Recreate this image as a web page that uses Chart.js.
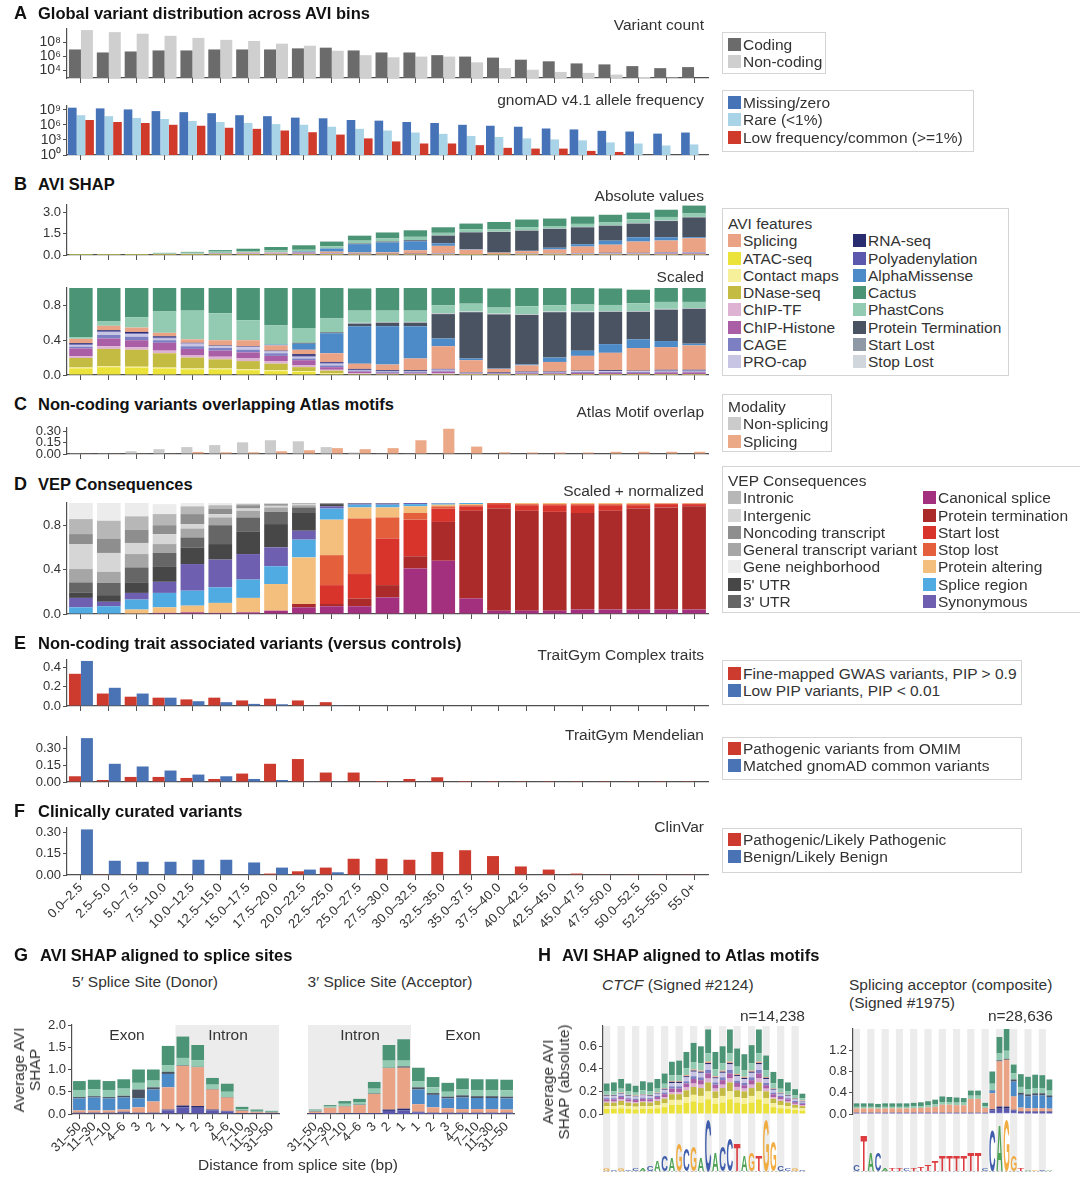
<!DOCTYPE html>
<html>
<head>
<meta charset="utf-8">
<script src="https://cdn.jsdelivr.net/npm/chart.js@4.4.1/dist/chart.umd.min.js"></script>
<style>
body{margin:0;width:1080px;height:1190px;position:relative;background:#fff;font-family:"Liberation Sans",Arial,sans-serif;color:#222;overflow:hidden}
canvas{position:absolute}
.t{position:absolute;white-space:nowrap;line-height:1}
.ttl{font-weight:bold;font-size:16.5px;color:#111}
.let{font-weight:bold;font-size:18px;color:#111}
.sub{font-size:15.5px;color:#333}
.lg{position:absolute;border:1px solid #d4d4d4;font-size:15.5px;line-height:17.3px;padding:3px 5px;color:#333;box-sizing:border-box;white-space:nowrap}
.lg i{display:inline-block;width:13px;height:13px;margin-right:2px;vertical-align:-1px}
.rot{position:absolute;transform:translate(-50%,-50%) rotate(-90deg);text-align:center;font-size:15.5px;line-height:16px;color:#333;white-space:nowrap}
</style>
</head>
<body>
<script>
const FONT = '"Liberation Sans", Arial, sans-serif';
Chart.defaults.font.family = FONT;
Chart.defaults.color = '#333';
const AX = '#505050';

// ---------- categories ----------
const bins = ['0.0–2.5','2.5–5.0','5.0–7.5','7.5–10.0','10.0–12.5','12.5–15.0','15.0–17.5','17.5–20.0',
  '20.0–22.5','22.5–25.0','25.0–27.5','27.5–30.0','30.0–32.5','32.5–35.0','35.0–37.5','37.5–40.0',
  '40.0–42.5','42.5–45.0','45.0–47.5','47.5–50.0','50.0–52.5','52.5–55.0','55.0+'];
const spliceLabels = ['31–50','11–30','7–10','4–6','3','2','1','1','2','3','4–6','7–10','11–30','31–50'];

// ---------- A: variant counts ----------
const codingCount = [1.05e7,3.9e6,5.4e6,7.6e6,7.6e6,1.05e7,1.05e7,1.05e7,1.5e7,1.9e7,7.6e6,3.9e6,3.9e6,1.6e6,1.0e6,7.1e5,3.6e5,2.1e5,1.05e5,7.6e4,4.3e4,2.2e4,3.1e4];
const nonCodingCount = [6.3e9,3.2e9,1.9e9,9.5e8,4.8e8,2.5e8,1.7e8,7.1e7,3.6e7,6.8e6,1.6e6,7.9e5,1.0e6,1.0e6,1.5e5,2.2e4,1.3e4,6.3e3,4.6e3,2.6e3,1.2e3,1.0e3,0];
const afMissing = [2.9e9,2.1e9,1.3e9,6.0e8,3.7e8,2.3e8,9.1e7,5.8e7,3.0e7,2.2e7,1.0e7,7.4e6,4.0e6,2.5e6,1.1e6,7.1e5,4.5e5,2.0e5,1.3e5,6.8e4,4.9e4,1.9e4,3.1e4];
const afRare = [9.1e7,5.8e7,2.6e7,1.6e7,6.3e6,4.0e6,2.5e6,1.5e6,1.1e6,4.5e5,1.7e5,7.9e4,3.1e4,1.7e4,6.5e3,4.0e3,2.1e3,1.3e3,850,330,200,80,130];
const afCommon = [1.0e7,4.0e6,2.5e6,1.1e6,7.1e5,2.8e5,1.7e5,7.9e4,3.6e4,1.2e4,2.1e3,520,200,200,93,27,19,19,6.6,4.1,0,0,0];

// ---------- B: AVI SHAP ----------
const shapTotal = [.07,.07,.07,.15,.22,.34,.44,.56,.68,.94,1.36,1.57,1.72,1.94,2.2,2.32,2.47,2.54,2.69,2.83,3.03,3.17,3.46];
const scAtac    = [.076,.09,.085,.075,.065,.065,.055,.045,.035,.015,.005,.005,.005,.005,.002,.002,.002,.002,.002,.002,.002,.002,.002];
const scContact = [.01,.01,.01,.01,.01,.01,.01,.01,.01,.005,0,0,0,0,0,0,0,0,0,0,0,0,0];
const scDnase   = [.11,.2,.195,.165,.125,.105,.095,.075,.045,.03,.005,.005,.005,.005,.003,.003,.003,.003,.003,.003,.003,.003,.003];
const scChipTF  = [.02,.03,.03,.03,.03,.03,.03,.03,.02,.01,.01,.005,.005,.01,.005,.005,.005,.005,.005,.005,.005,.005,.005];
const scChipHist= [.09,.09,.08,.09,.07,.07,.07,.06,.06,.03,.02,.01,.01,.02,.005,.005,.01,.01,.015,.015,.015,.02,.02];
const scCage    = [.02,.04,.04,.03,.03,.03,.03,.03,.02,.02,.01,.01,.01,.01,.005,.005,.01,.01,.01,.01,.01,.01,.01];
const scProcap  = [.02,.03,.03,.02,.03,.02,.03,.02,.02,.02,.005,.005,.005,.01,.005,0,.005,.005,.01,.01,.01,.01,.01];
const scPoly    = [.01,.01,.01,.01,.005,.005,.005,.005,.01,.01,.005,.005,.005,.005,0,0,0,0,0,0,0,0,0];
const scRna     = [.01,.015,.015,.015,.005,.005,.005,.005,.02,.01,.01,.01,.01,.005,.005,.01,.005,.005,.005,.01,.005,.01,.01];
const scSplicing= [.05,.05,.05,.04,.04,.06,.07,.06,.05,.10,.06,.065,.135,.26,.14,.04,.07,.11,.17,.20,.26,.26,.28];
const scAM      = [0,0,0,0,0,0,0,.01,.07,.23,.43,.44,.37,.09,.02,.005,.01,.05,.06,.10,.10,.07,.02];
const scPT      = [0,0,0,0,0,0,0,0,.01,.01,.03,.04,.04,.28,.53,.62,.57,.52,.44,.37,.315,.36,.40];
const scStart   = [0,0,0,0,0,0,0,0,0,0,.005,.005,.005,.005,.005,.005,.005,.005,.005,.005,.005,.005,.005];
const scStop    = [0,0,0,0,0,0,0,0,0,0,.005,.005,.005,.005,.005,.005,.005,.005,.005,.005,.005,.005,.005];
const scPhast   = [.02,.05,.12,.245,.33,.31,.23,.22,.17,.16,.14,.13,.13,.09,.09,.07,.09,.07,.08,.07,.09,.08,.07];
const scCactus  = [.58,.385,.335,.27,.26,.30,.37,.43,.46,.35,.255,.265,.265,.20,.18,.22,.215,.205,.19,.19,.155,.16,.16];

// ---------- C: Atlas motif overlap ----------
const motifNonSplicing = [.01,.01,.037,.065,.093,.12,.157,.185,.171,.093,.02,.005,.005,0,0,0,0,0,0,0,0,0,0];
const motifSplicing    = [.005,.005,.005,.005,.028,.023,.023,.037,.051,.079,.065,.079,.185,.34,.10,.023,.02,.02,.02,.03,.03,.03,.03];

// ---------- D: VEP consequences ----------
const vepCanon    = [0,0,.005,.01,.015,.01,.015,.03,.06,.07,.07,.15,.41,.48,.14,.03,.03,.03,.04,.04,.04,.04,.04];
const vepProtTerm = [0,0,0,0,0,0,0,0,.03,.02,.07,.11,.11,.35,.79,.92,.90,.89,.87,.89,.91,.92,.93];
const vepStart    = [0,0,0,0,0,0,0,0,0,.17,.22,.42,.33,.12,.04,.04,.05,.06,.07,.05,.03,.03,.02];
const vepStop     = [0,0,0,0,0,0,0,0,0,.27,.50,.19,.06,.02,.01,.01,.01,.01,.01,.01,.01,.005,.005];
const vepProtAlt  = [0,0,.035,.05,.06,.09,.13,.24,.42,.32,.10,.09,.06,.015,.01,0,.01,.01,.01,.01,.01,.005,.005];
const vepSpliceReg= [.06,.07,.09,.13,.135,.14,.165,.16,.16,.10,.025,.025,.02,.01,.01,0,0,0,0,0,0,0,0];
const vepSynon    = [.085,.04,.06,.10,.24,.25,.23,.17,.08,.02,.01,.01,.01,.005,0,0,0,0,0,0,0,0,0];
const vepUtr5     = [.05,.06,.09,.14,.15,.14,.20,.21,.16,.02,.005,.005,.01,0,0,0,0,0,0,0,0,0,0];
const vepUtr3     = [.09,.11,.14,.12,.09,.17,.13,.11,.05,.005,0,0,0,0,0,0,0,0,0,0,0,0,0];
const vepGeneral  = [.12,.10,.12,.08,.08,.07,.06,.04,.02,.005,0,0,0,0,0,0,0,0,0,0,0,0,0];
const vepIntergen = [.225,.17,.10,.09,.04,.03,.02,.015,.01,0,0,0,0,0,0,0,0,0,0,0,0,0,0];
const vepNoncoding= [.09,.13,.12,.08,.09,.05,.03,.015,.005,0,0,0,0,0,0,0,0,0,0,0,0,0,0];
const vepIntronic = [.135,.16,.12,.10,.07,.03,.01,.005,.005,0,0,0,0,0,0,0,0,0,0,0,0,0,0];
const vepGeneNb   = [.145,.16,.12,.09,.03,.02,.01,.005,0,0,0,0,0,0,0,0,0,0,0,0,0,0,0];

// ---------- E / F ----------
const complexGwas = [.336,.13,.097,.087,.069,.087,.058,.076,.058,.04,0,0,0,0,0,0,0,0,0,0,0,0,0];
const complexLowPip = [.47,.19,.13,.087,.05,.04,.022,.018,.007,.003,0,0,0,0,0,0,0,0,0,0,0,0,0];
const mendelOmim = [.051,.018,.045,.045,.036,.027,.075,.162,.204,.084,.084,.009,.027,.042,.009,.008,.002,.002,.002,.002,.002,.002,.002];
const mendelGnomad = [.39,.162,.138,.102,.066,.051,.027,.018,.003,.002,0,0,0,0,0,0,0,0,0,0,0,0,0];
const clinvarPath = [0,.002,0,0,0,0,0,.01,.026,.052,.114,.114,.107,.162,.174,.133,.06,.038,.01,.002,.002,.002,.002];
const clinvarBenign = [.32,.10,.093,.093,.107,.107,.088,.052,.038,.019,.002,0,0,0,0,0,0,0,0,0,0,0,0];

// ---------- G: splice sites ----------
const donorPoly  = [.02,.02,.02,.03,.02,.02,.08,.15,.14,.08,.06,.01,.01,.01];
const donorRna   = [.01,.01,.01,.02,.01,.01,.02,.04,.04,.02,.01,.01,.01,.01];
const donorSpl   = [.05,.05,.05,.05,.12,.25,.5,.89,.87,.45,.30,.05,.02,.01];
const donorAM    = [.27,.29,.27,.27,.2,.27,.3,0,0,0,0,0,0,0];
const donorPT    = [.03,.03,.03,.04,.2,.05,.05,.01,.01,.01,.01,.01,.01,.01];
const donorPhast = [.16,.16,.16,.16,.15,.15,.15,.17,.15,.10,.12,.03,.02,.01];
const donorCactus= [.20,.21,.20,.21,.30,.25,.43,.48,.34,.15,.18,.05,.03,.02];
const accPoly  = [.01,.01,.01,.01,.01,.07,.08,.04,.02,.02,.02,.02,.02,.02];
const accRna   = [.01,.005,.01,.01,.01,.03,.04,.01,.01,.01,.01,.01,.01,.01];
const accSpl   = [.03,.125,.15,.18,.43,.93,.92,.17,.12,.10,.08,.08,.08,.07];
const accAM    = [0,0,0,0,0,0,0,.33,.28,.22,.26,.25,.25,.25];
const accPT    = [.01,0,.01,.01,.01,.01,.03,.05,.04,.04,.05,.04,.04,.04];
const accPhast = [.02,.03,.05,.06,.11,.16,.13,.14,.13,.11,.13,.14,.14,.14];
const accCactus= [.02,.03,.06,.07,.15,.35,.48,.30,.23,.20,.25,.24,.24,.24];

// ---------- H: Atlas motifs ----------
const ctcfAtac   = [.045,.045,.05,.045,.04,.045,.045,.05,.06,.08,.08,.10,.11,.10,.13,.09,.10,.13,.10,.09,.10,.13,.09,.06,.05,.045,.035,.03];
const ctcfContact= [.025,.025,.03,.025,.025,.025,.025,.03,.035,.045,.045,.05,.06,.06,.07,.05,.06,.07,.05,.05,.06,.07,.05,.035,.03,.025,.02,.02];
const ctcfDnase  = [.03,.03,.035,.03,.03,.035,.03,.035,.04,.05,.05,.06,.07,.07,.08,.06,.07,.08,.06,.06,.07,.08,.06,.04,.035,.03,.025,.02];
const ctcfTF     = [.01,.01,.015,.01,.01,.01,.01,.015,.015,.02,.02,.025,.03,.03,.035,.025,.03,.035,.03,.025,.03,.035,.025,.015,.015,.01,.01,.01];
const ctcfHist   = [.02,.02,.02,.02,.02,.02,.02,.02,.025,.03,.03,.035,.04,.04,.045,.035,.04,.045,.035,.03,.04,.045,.03,.025,.02,.02,.015,.01];
const ctcfCage   = [.01,.01,.01,.01,.01,.01,.01,.01,.015,.02,.02,.02,.025,.025,.03,.02,.025,.03,.02,.02,.025,.03,.02,.015,.01,.01,.01,.01];
const ctcfProcap = [.02,.02,.02,.02,.02,.02,.02,.02,.025,.03,.03,.035,.04,.04,.05,.035,.04,.05,.04,.035,.04,.05,.035,.025,.02,.02,.015,.01];
const ctcfRna    = [.005,.005,.005,.005,.005,.005,.005,.005,.008,.01,.01,.01,.01,.01,.012,.01,.01,.012,.01,.01,.01,.012,.01,.008,.005,.005,.005,.005];
const ctcfSpl    = [.005,.005,.005,.005,.005,.005,.005,.005,.005,.008,.008,.01,.01,.01,.012,.01,.01,.012,.01,.01,.01,.012,.008,.005,.005,.005,.005,.005];
const ctcfPhast  = [.03,.03,.035,.03,.025,.035,.03,.035,.04,.05,.05,.06,.065,.065,.075,.06,.065,.075,.065,.06,.065,.075,.06,.045,.035,.03,.025,.02];
const ctcfCactus = [.07,.08,.085,.07,.06,.08,.08,.085,.09,.12,.13,.145,.17,.15,.21,.155,.15,.21,.16,.14,.16,.21,.13,.10,.085,.08,.055,.04];
const accMotifPoly  = [.01,.01,.01,.01,.01,.01,.01,.01,.01,.01,.01,.01,.01,.01,.01,.01,.01,.01,.01,.05,.08,.08,.05,.03,.03,.03,.03,.03];
const accMotifProcap= [.01,.01,.01,.01,.01,.01,.01,.01,.01,.01,.01,.01,.01,.01,.01,.01,.01,.01,.01,.02,.02,.02,.02,.01,.01,.01,.01,.01];
const accMotifRna   = [.005,.005,.005,.005,.005,.005,.005,.005,.005,.005,.005,.005,.005,.005,.005,.005,.005,.005,.005,.02,.04,.04,.01,.01,.01,.01,.01,.01];
const accMotifSpl   = [.08,.08,.08,.075,.08,.08,.08,.08,.085,.09,.10,.11,.15,.15,.14,.14,.26,.26,.09,.30,.85,.88,.25,.07,.06,.06,.06,.05];
const accMotifAM    = [0,0,0,0,0,0,0,0,0,0,0,0,0,0,0,0,0,0,0,.05,0,0,.28,.24,.22,.24,.24,.22];
const accMotifPT    = [0,0,0,0,0,0,0,0,0,0,0,0,0,0,0,0,0,0,0,.01,.02,.02,.04,.04,.04,.04,.04,.03];
const accMotifPhast = [.03,.03,.03,.03,.03,.03,.03,.03,.035,.035,.04,.045,.05,.05,.05,.05,.06,.06,.035,.12,.13,.15,.12,.11,.10,.10,.10,.09];
const accMotifCactus= [.065,.065,.065,.06,.065,.065,.065,.065,.065,.07,.075,.09,.105,.095,.095,.085,.095,.095,.06,.23,.31,.41,.16,.24,.23,.25,.24,.21];
const ctcfLogo = ['G','C','G','C','C','A','C','A','C','A','G','C','G','A','C','A','C','C','T','A','G','T','G','G','C','C','G','C'];
const ctcfLogoH = [.04,.03,.04,.03,.04,.05,.1,.2,.3,.25,.55,.45,.5,.25,1,.35,.5,.65,.55,.3,.35,.3,1,.6,.1,.06,.04,.03];
const accLogo = ['C','T','A','C','A','T','T','C','T','T','T','T','T','T','T','T','T','T','C','C','A','G','G','T','A','G','C','A'];
const accLogoH = [.12,.7,.35,.35,.04,.04,.04,.04,.06,.08,.12,.2,.3,.3,.3,.3,.35,.35,.06,.8,.9,1,.3,.06,.03,.03,.03,.03];

// ---------- colours ----------
const FEAT = {
  'ATAC-seq':'#ece33a','Contact maps':'#f6f09a','DNase-seq':'#c4bb43','ChIP-TF':'#ddb2d3','ChIP-Histone':'#a95ea6',
  'CAGE':'#7c80c2','PRO-cap':'#c8c5e4','Polyadenylation':'#5b58ad','RNA-seq':'#2a2c70','Splicing':'#eba386',
  'AlphaMissense':'#4d8ac8','Protein Termination':'#4a5361','Start Lost':'#8f99a6','Stop Lost':'#d1d6dc',
  'PhastCons':'#92cbb2','Cactus':'#4b9476'
};
const LOGO_COL = {A:'#3c9a45', C:'#2e4ea5', G:'#f0a42c', T:'#d9272b'};

function feat(name, data) { return {label: name, data, backgroundColor: FEAT[name]}; }
function bar(label, data, color) { return {label, data, backgroundColor: color}; }

const SUP = '⁰¹²³⁴⁵⁶⁷⁸⁹';
const pow10 = v => '10' + String(Math.round(Math.log10(v))).split('').map(d => SUP[d]).join('');

function mk(o) {
  const pt = o.pt ?? 8, pr = o.pr ?? 4;
  const w = o.x1 - o.x0 + o.yw + pr, h = o.y1 - o.y0 + pt + o.xh;
  const cv = document.createElement('canvas');
  cv.width = w; cv.height = h;
  cv.style.left = (o.x0 - o.yw) + 'px'; cv.style.top = (o.y0 - pt) + 'px';
  cv.style.width = w + 'px'; cv.style.height = h + 'px';
  document.body.appendChild(cv);
  const showY = !!o.yTicks;
  return new Chart(cv, {
    type: 'bar',
    data: {labels: o.labels || bins, datasets: o.sets},
    plugins: o.plugins || [],
    options: {
      responsive: false, animation: false, devicePixelRatio: 1,
      layout: {padding: {top: pt, right: pr, left: 0, bottom: 0}},
      plugins: {legend: {display: false}, tooltip: {enabled: false}},
      datasets: {bar: {borderWidth: 0, barPercentage: o.bp ?? 1, categoryPercentage: o.cp ?? 0.86}},
      scales: {
        x: {
          stacked: !!o.stacked, offset: true,
          border: {display: o.xLine !== false, color: AX, width: 1.2},
          grid: {display: o.xLine !== false, drawOnChartArea: false, tickLength: 5, color: AX, offset: false},
          ticks: {display: !!o.xLabels, autoSkip: false, maxRotation: 45, minRotation: 45, padding: 0, font: {size: 13}},
          afterFit: s => { s.height = o.xh; s.paddingLeft = 0; s.paddingRight = 0; }
        },
        y: Object.assign({
          type: 'linear', stacked: !!o.stacked, min: 0, max: o.max,
          border: {display: showY, color: AX, width: 1.2},
          grid: {display: showY, drawOnChartArea: false, tickLength: 4, color: AX},
          ticks: {display: showY, autoSkip: false, padding: 2, font: {size: o.tickSize || 13}, callback: o.fmt || (v => v)},
          afterBuildTicks: s => { if (showY) s.ticks = o.yTicks.map(v => ({value: v})); },
          afterFit: s => { s.width = o.yw; s.paddingTop = 0; s.paddingBottom = 0; }
        }, o.y || {})
      }
    }
  });
}

const f1 = v => v.toFixed(1), f2 = v => v.toFixed(2);

// A
mk({x0: 67, x1: 708, y0: 29, y1: 78, yw: 67, xh: 6, cp: .86, tickSize: 14,
  y: {type: 'logarithmic', min: 850, max: 9e9}, yTicks: [1e4, 1e6, 1e8], fmt: pow10,
  sets: [bar('Coding', codingCount, '#6b6b6b'), bar('Non-coding', nonCodingCount, '#cfcfcf')]});
mk({x0: 67, x1: 708, y0: 106, y1: 155, yw: 67, xh: 6, cp: .93, tickSize: 14,
  y: {type: 'logarithmic', min: 1, max: 6.3e9}, yTicks: [1, 1e3, 1e6, 1e9], fmt: pow10,
  sets: [bar('Missing/zero', afMissing, '#4673b8'), bar('Rare (<1%)', afRare, '#a9d4e8'),
         bar('Low frequency/common (>=1%)', afCommon, '#cf3a2a')]});

// B
const scaledShap = [
  ['ATAC-seq', scAtac], ['Contact maps', scContact], ['DNase-seq', scDnase], ['ChIP-TF', scChipTF],
  ['ChIP-Histone', scChipHist], ['CAGE', scCage], ['PRO-cap', scProcap], ['Polyadenylation', scPoly],
  ['RNA-seq', scRna], ['Splicing', scSplicing], ['AlphaMissense', scAM], ['Protein Termination', scPT],
  ['Start Lost', scStart], ['Stop Lost', scStop], ['PhastCons', scPhast], ['Cactus', scCactus]];
mk({x0: 67, x1: 708, y0: 205, y1: 255, yw: 67, xh: 6, stacked: true, bp: .84, cp: 1, max: 3.5,
  yTicks: [0, 1.5, 3], fmt: f1,
  sets: scaledShap.map(([n, d]) => feat(n, d.map((f, i) => f * shapTotal[i])))});
mk({x0: 67, x1: 708, y0: 288, y1: 375, yw: 67, xh: 6, stacked: true, bp: .84, cp: 1, max: 1,
  yTicks: [0, .4, .8], fmt: f1,
  sets: scaledShap.map(([n, d]) => feat(n, d))});

// C
mk({x0: 67, x1: 708, y0: 428, y1: 454, yw: 67, xh: 6, cp: .8, max: .35, yTicks: [0, .15, .3], fmt: f2,
  sets: [bar('Non-splicing', motifNonSplicing, '#cbcbcb'), bar('Splicing', motifSplicing, '#eca987')]});

// D
mk({x0: 67, x1: 708, y0: 503, y1: 614, yw: 67, xh: 6, stacked: true, bp: .85, cp: 1, max: 1,
  yTicks: [0, .4, .8], fmt: f1,
  sets: [bar('Canonical splice', vepCanon, '#a3307e'), bar('Protein termination', vepProtTerm, '#ab2b2b'),
    bar('Start lost', vepStart, '#d8342b'), bar('Stop lost', vepStop, '#e4603c'),
    bar('Protein altering', vepProtAlt, '#f4bf7c'), bar('Splice region', vepSpliceReg, '#4fabe2'),
    bar('Synonymous', vepSynon, '#6f5fb0'), bar("5' UTR", vepUtr5, '#474747'), bar("3' UTR", vepUtr3, '#666666'),
    bar('General transcript variant', vepGeneral, '#a6a6a6'), bar('Intergenic', vepIntergen, '#d6d6d6'),
    bar('Noncoding transcript', vepNoncoding, '#8e8e8e'), bar('Intronic', vepIntronic, '#b7b7b7'),
    bar('Gene neighborhood', vepGeneNb, '#ececec')]});

// E
const RED = '#cc3b2e', BLUE = '#4a73b5';
mk({x0: 67, x1: 708, y0: 660, y1: 706, yw: 67, xh: 6, max: .48, yTicks: [0, .2, .4], fmt: f1,
  sets: [bar('Fine-mapped GWAS variants, PIP > 0.9', complexGwas, RED), bar('Low PIP variants, PIP < 0.01', complexLowPip, BLUE)]});
mk({x0: 67, x1: 708, y0: 737, y1: 782, yw: 67, xh: 6, max: .40, yTicks: [0, .15, .3], fmt: f2,
  sets: [bar('Pathogenic variants from OMIM', mendelOmim, RED), bar('Matched gnomAD common variants', mendelGnomad, BLUE)]});

// F
mk({x0: 67, x1: 708, y0: 828, y1: 875, yw: 67, xh: 75, max: .33, yTicks: [0, .15, .3], fmt: f2, xLabels: true,
  sets: [bar('Pathogenic/Likely Pathogenic', clinvarPath, RED), bar('Benign/Likely Benign', clinvarBenign, BLUE)]});

// G
function shade(from, to) {
  return {id: 'shade', beforeDraw(ch) {
    const {ctx, chartArea: a, scales: {x}} = ch;
    const w = x.getPixelForValue(1) - x.getPixelForValue(0);
    const l = x.getPixelForValue(from) - w / 2, r = x.getPixelForValue(to) + w / 2;
    ctx.save(); ctx.fillStyle = '#ececec'; ctx.fillRect(l, a.top, r - l, a.bottom - a.top); ctx.restore();
  }};
}
mk({x0: 72, x1: 279, y0: 1025, y1: 1114, yw: 72, xh: 45, stacked: true, bp: .86, cp: 1, max: 2,
  yTicks: [0, .5, 1, 1.5, 2], fmt: f1, xLabels: true, labels: spliceLabels, plugins: [shade(7, 13)],
  sets: [feat('Polyadenylation', donorPoly), feat('RNA-seq', donorRna), feat('Splicing', donorSpl),
    feat('AlphaMissense', donorAM), feat('Protein Termination', donorPT), feat('PhastCons', donorPhast), feat('Cactus', donorCactus)]});
mk({x0: 308, x1: 514, y0: 1025, y1: 1114, yw: 28, xh: 45, stacked: true, bp: .86, cp: 1, max: 2,
  xLabels: true, labels: spliceLabels, plugins: [shade(0, 6)],
  sets: [feat('Polyadenylation', accPoly), feat('RNA-seq', accRna), feat('Splicing', accSpl),
    feat('AlphaMissense', accAM), feat('Protein Termination', accPT), feat('PhastCons', accPhast), feat('Cactus', accCactus)]});

// H
function stripes() {
  return {id: 'stripes', beforeDraw(ch) {
    const {ctx, chartArea: a, scales: {x}} = ch;
    const w = x.getPixelForValue(1) - x.getPixelForValue(0);
    ctx.save(); ctx.fillStyle = '#ececec';
    for (let i = 0; i < ch.data.labels.length; i += 2) ctx.fillRect(x.getPixelForValue(i) - w / 2, a.top, w, a.bottom - a.top + 58);
    ctx.restore();
  }};
}
function logo(letters, heights) {
  return {id: 'logo', afterDraw(ch) {
    const {ctx, chartArea: a, scales: {x}} = ch;
    const base = a.bottom + 57, full = 50;
    const w = (x.getPixelForValue(1) - x.getPixelForValue(0)) * 0.92;
    ctx.save();
    ctx.strokeStyle = '#c4c4c4'; ctx.setLineDash([2, 2]);
    ctx.beginPath(); ctx.moveTo(a.left, base + 0.5); ctx.lineTo(a.right, base + 0.5); ctx.stroke();
    ctx.setLineDash([]);
    ctx.font = 'bold 100px ' + FONT;
    letters.forEach((L, i) => {
      const hh = heights[i] * full;
      const m = ctx.measureText(L);
      ctx.save();
      ctx.translate(x.getPixelForValue(i) - w / 2, base);
      ctx.scale(w / m.width, hh / m.actualBoundingBoxAscent);
      ctx.fillStyle = LOGO_COL[L]; ctx.globalAlpha = .9;
      ctx.fillText(L, 0, 0);
      ctx.restore();
    });
    ctx.restore();
  }};
}
const pos28 = ctcfLogo.map((_, i) => String(i + 1));
mk({x0: 603, x1: 806, y0: 1026, y1: 1114, yw: 63, xh: 62, stacked: true, bp: .8, cp: 1, max: .78, xLine: false,
  yTicks: [0, .2, .4, .6], fmt: f1, labels: pos28, plugins: [stripes(), logo(ctcfLogo, ctcfLogoH)],
  sets: [feat('ATAC-seq', ctcfAtac), feat('Contact maps', ctcfContact), feat('DNase-seq', ctcfDnase), feat('ChIP-TF', ctcfTF),
    feat('ChIP-Histone', ctcfHist), feat('CAGE', ctcfCage), feat('PRO-cap', ctcfProcap), feat('RNA-seq', ctcfRna),
    feat('Splicing', ctcfSpl), feat('PhastCons', ctcfPhast), feat('Cactus', ctcfCactus)]});
mk({x0: 853, x1: 1053, y0: 1029, y1: 1114, yw: 30, xh: 62, stacked: true, bp: .8, cp: 1, max: 1.6, xLine: false,
  yTicks: [0, .4, .8, 1.2], fmt: f1, labels: pos28, plugins: [stripes(), logo(accLogo, accLogoH)],
  sets: [feat('PRO-cap', accMotifProcap), feat('Polyadenylation', accMotifPoly), feat('RNA-seq', accMotifRna),
    feat('Splicing', accMotifSpl), feat('AlphaMissense', accMotifAM), feat('Protein Termination', accMotifPT),
    feat('PhastCons', accMotifPhast), feat('Cactus', accMotifCactus)]});

// ---------- text ----------
function txt(x, y, html, cls, align) {
  const d = document.createElement('div');
  d.className = 't ' + cls;
  d.innerHTML = html;
  d.style.top = y + 'px';
  if (align === 'r') { d.style.right = (1080 - x) + 'px'; d.style.transform = 'translateY(-50%)'; }
  else if (align === 'c') { d.style.left = x + 'px'; d.style.transform = 'translate(-50%,-50%)'; }
  else { d.style.left = x + 'px'; d.style.transform = 'translateY(-50%)'; }
  document.body.appendChild(d);
}
function title(x, y, letter, text, gap) {
  txt(x, y, letter, 'let');
  txt(x + (gap || 24), y, text, 'ttl');
}
title(14, 13, 'A', 'Global variant distribution across AVI bins');
title(14, 184, 'B', 'AVI SHAP');
title(14, 404, 'C', 'Non-coding variants overlapping Atlas motifs');
title(14, 484, 'D', 'VEP Consequences');
title(14, 643, 'E', 'Non-coding trait associated variants (versus controls)');
title(14, 811, 'F', 'Clinically curated variants');
title(14, 955, 'G', 'AVI SHAP aligned to splice sites', 26);
title(538, 955, 'H', 'AVI SHAP aligned to Atlas motifs', 24);

[['Variant count', 25], ['gnomAD v4.1 allele frequency', 100], ['Absolute values', 196], ['Scaled', 277],
 ['Atlas Motif overlap', 412], ['Scaled + normalized', 491], ['TraitGym Complex traits', 655],
 ['TraitGym Mendelian', 735], ['ClinVar', 827]].forEach(([s, y]) => txt(704, y, s, 'sub', 'r'));

txt(145, 982, '5′ Splice Site (Donor)', 'sub', 'c');
txt(390, 982, '3′ Splice Site (Acceptor)', 'sub', 'c');
txt(127, 1035, 'Exon', 'sub', 'c');
txt(228, 1035, 'Intron', 'sub', 'c');
txt(360, 1035, 'Intron', 'sub', 'c');
txt(463, 1035, 'Exon', 'sub', 'c');
txt(298, 1165, 'Distance from splice site (bp)', 'sub', 'c');
txt(602, 985, '<i>CTCF</i> (Signed #2124)', 'sub');
txt(849, 985, 'Splicing acceptor (composite)', 'sub');
txt(849, 1003, '(Signed #1975)', 'sub');
txt(805, 1016, 'n=14,238', 'sub', 'r');
txt(1053, 1016, 'n=28,636', 'sub', 'r');

function rot(cx, cy, html) {
  const d = document.createElement('div');
  d.className = 'rot'; d.innerHTML = html;
  d.style.left = cx + 'px'; d.style.top = cy + 'px';
  document.body.appendChild(d);
}
rot(27, 1070, 'Average AVI<br>SHAP');
rot(556, 1082, 'Average AVI<br>SHAP (absolute)');

// ---------- legends ----------
function legend(x, y, w, h, head, cols, colX, pad) {
  const d = document.createElement('div');
  d.className = 'lg';
  Object.assign(d.style, {left: x + 'px', top: y + 'px', width: w + 'px', height: h + 'px', paddingTop: (pad || 3) + 'px'});
  let html = head ? '<div>' + head + '</div>' : '';
  html += '<div style="position:relative">';
  cols.forEach((col, ci) => {
    html += '<div style="position:absolute;top:0;left:' + (colX ? colX[ci] : 0) + 'px">' +
      col.map(([c, l]) => '<div><i style="background:' + c + '"></i>' + l + '</div>').join('') + '</div>';
  });
  d.innerHTML = html + '</div>';
  document.body.appendChild(d);
}
legend(722, 32, 104, 42, null, [[['#6b6b6b', 'Coding'], ['#cfcfcf', 'Non-coding']]]);
legend(722, 90, 252, 62, null, [[['#4673b8', 'Missing/zero'], ['#a9d4e8', 'Rare (&lt;1%)'], ['#cf3a2a', 'Low frequency/common (&gt;=1%)']]]);
legend(722, 208, 287, 168, 'AVI features', [
  ['Splicing', 'ATAC-seq', 'Contact maps', 'DNase-seq', 'ChIP-TF', 'ChIP-Histone', 'CAGE', 'PRO-cap'].map(n => [FEAT[n], n]),
  ['RNA-seq', 'Polyadenylation', 'AlphaMissense', 'Cactus', 'PhastCons', 'Protein Termination', 'Start Lost', 'Stop Lost'].map(n => [FEAT[n], n])
], [0, 125], 6);
legend(722, 394, 110, 58, 'Modality', [[['#cbcbcb', 'Non-splicing'], ['#eca987', 'Splicing']]]);
legend(722, 466, 362, 147, 'VEP Consequences', [
  [['#b7b7b7', 'Intronic'], ['#d6d6d6', 'Intergenic'], ['#8e8e8e', 'Noncoding transcript'], ['#a6a6a6', 'General transcript variant'],
   ['#ececec', 'Gene neighborhood'], ['#474747', "5' UTR"], ['#666666', "3' UTR"]],
  [['#a3307e', 'Canonical splice'], ['#ab2b2b', 'Protein termination'], ['#d8342b', 'Start lost'], ['#e4603c', 'Stop lost'],
   ['#f4bf7c', 'Protein altering'], ['#4fabe2', 'Splice region'], ['#6f5fb0', 'Synonymous']]
], [0, 195], 5);
legend(722, 660, 300, 45, null, [[[RED, 'Fine-mapped GWAS variants, PIP &gt; 0.9'], [BLUE, 'Low PIP variants, PIP &lt; 0.01']]], null, 4);
legend(722, 737, 300, 43, null, [[[RED, 'Pathogenic variants from OMIM'], [BLUE, 'Matched gnomAD common variants']]], null, 2);
legend(722, 828, 300, 45, null, [[[RED, 'Pathogenic/Likely Pathogenic'], [BLUE, 'Benign/Likely Benign']]], null, 2);
</script>
</body>
</html>
